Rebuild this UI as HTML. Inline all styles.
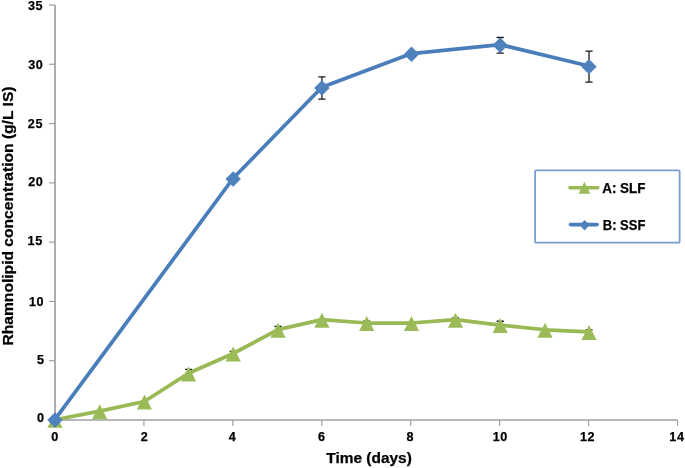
<!DOCTYPE html>
<html><head><meta charset="utf-8"><style>
html,body{margin:0;padding:0;background:#fff;width:685px;height:468px;overflow:hidden}
body{position:relative;font-family:"Liberation Sans",sans-serif}
</style></head><body>
<svg width="685" height="468" viewBox="0 0 685 468" style="position:absolute;left:0;top:0;will-change:transform">
<g stroke="#a0a0a0" fill="none">
<path d="M55.0 5 V420.0" stroke-width="1.7"/>
<path d="M54.2 420.0 H677.5" stroke-width="1.7"/>
<path d="M49 420.00 H55.0" stroke-width="1.2"/>
<path d="M49 360.71 H55.0" stroke-width="1.2"/>
<path d="M49 301.43 H55.0" stroke-width="1.2"/>
<path d="M49 242.14 H55.0" stroke-width="1.2"/>
<path d="M49 182.86 H55.0" stroke-width="1.2"/>
<path d="M49 123.57 H55.0" stroke-width="1.2"/>
<path d="M49 64.29 H55.0" stroke-width="1.2"/>
<path d="M49 5.00 H55.0" stroke-width="1.2"/>
<path d="M55.00 420.0 V426" stroke-width="1.2"/>
<path d="M143.93 420.0 V426" stroke-width="1.2"/>
<path d="M232.86 420.0 V426" stroke-width="1.2"/>
<path d="M321.79 420.0 V426" stroke-width="1.2"/>
<path d="M410.71 420.0 V426" stroke-width="1.2"/>
<path d="M499.64 420.0 V426" stroke-width="1.2"/>
<path d="M588.57 420.0 V426" stroke-width="1.2"/>
<path d="M677.50 420.0 V426" stroke-width="1.2"/>
</g>
<g font-family="Liberation Sans, sans-serif" font-weight="bold" stroke="#000" stroke-width="0.25" font-size="12.6" fill="#000">
<text x="43.90" y="421.90" text-anchor="end" letter-spacing="0">0</text>
<text x="43.90" y="363.90" text-anchor="end" letter-spacing="0">5</text>
<text x="44.10" y="305.90" text-anchor="end" letter-spacing="0.6">10</text>
<text x="42.80" y="244.90" text-anchor="end" letter-spacing="0.6">15</text>
<text x="43.40" y="185.90" text-anchor="end" letter-spacing="0.6">20</text>
<text x="43.00" y="127.90" text-anchor="end" letter-spacing="0.6">25</text>
<text x="43.40" y="68.90" text-anchor="end" letter-spacing="0.6">30</text>
<text x="43.10" y="9.90" text-anchor="end" letter-spacing="0.6">35</text>
<text x="54.70" y="441.3" text-anchor="middle" letter-spacing="0">0</text>
<text x="144.33" y="441.3" text-anchor="middle" letter-spacing="0">2</text>
<text x="232.36" y="441.3" text-anchor="middle" letter-spacing="0">4</text>
<text x="321.49" y="441.3" text-anchor="middle" letter-spacing="0">6</text>
<text x="410.11" y="441.3" text-anchor="middle" letter-spacing="0">8</text>
<text x="500.24" y="441.3" text-anchor="middle" letter-spacing="0.6">10</text>
<text x="587.57" y="441.3" text-anchor="middle" letter-spacing="0.6">12</text>
<text x="676.90" y="441.3" text-anchor="middle" letter-spacing="0.6">14</text>
</g>
<text font-family="Liberation Sans, sans-serif" font-weight="bold" stroke="#000" stroke-width="0.25" font-size="14" x="326.3" y="462.5" textLength="85.5" lengthAdjust="spacingAndGlyphs" fill="#000">Time (days)</text>
<text font-family="Liberation Sans, sans-serif" font-weight="bold" stroke="#000" stroke-width="0.25" font-size="14" transform="translate(12.8 345.5) rotate(-90)" x="0" y="0" textLength="259" lengthAdjust="spacingAndGlyphs" fill="#000">Rhamnolipid concentration (g/L IS)</text>
<g stroke="#1a1a1a" stroke-width="1.3" fill="none">
<path d="M188.60 369.37 V378.38 M185.00 369.37 H192.20 M185.00 378.38 H192.20"/>
<path d="M233.20 351.47 V356.68 M229.60 351.47 H236.80 M229.60 356.68 H236.80"/>
<path d="M278.00 326.33 V334.15 M274.40 326.33 H281.60 M274.40 334.15 H281.60"/>
<path d="M366.70 321.11 V326.09 M363.10 321.11 H370.30 M363.10 326.09 H370.30"/>
<path d="M455.50 317.91 V322.65 M451.90 317.91 H459.10 M451.90 322.65 H459.10"/>
<path d="M500.20 321.23 V330.00 M496.60 321.23 H503.80 M496.60 330.00 H503.80"/>
<path d="M589.00 329.89 V335.10 M585.40 329.89 H592.60 M585.40 335.10 H592.60"/>
<path d="M321.90 76.97 V99.03 M318.30 76.97 H325.50 M318.30 99.03 H325.50"/>
<path d="M500.20 37.49 V53.14 M496.60 37.49 H503.80 M496.60 53.14 H503.80"/>
<path d="M589.00 51.12 V82.19 M585.40 51.12 H592.60 M585.40 82.19 H592.60"/>
</g>
<polyline transform="translate(0 -0.6)" points="55.00,420.36 99.70,411.70 144.40,402.10 188.60,373.88 233.20,354.07 278.00,330.24 321.90,320.28 366.70,323.60 411.50,323.60 455.50,320.28 500.20,325.62 545.00,330.36 589.00,332.49" fill="none" stroke="#98b954" stroke-width="3.75" stroke-linejoin="round" stroke-linecap="round"/>
<path d="M55.00 412.86 L62.60 427.86 L47.40 427.86Z" fill="#9bbb59"/>
<path d="M99.70 404.20 L107.30 419.20 L92.10 419.20Z" fill="#9bbb59"/>
<path d="M144.40 394.60 L152.00 409.60 L136.80 409.60Z" fill="#9bbb59"/>
<path d="M188.60 366.38 L196.20 381.38 L181.00 381.38Z" fill="#9bbb59"/>
<path d="M233.20 346.57 L240.80 361.57 L225.60 361.57Z" fill="#9bbb59"/>
<path d="M278.00 322.74 L285.60 337.74 L270.40 337.74Z" fill="#9bbb59"/>
<path d="M321.90 312.78 L329.50 327.78 L314.30 327.78Z" fill="#9bbb59"/>
<path d="M366.70 316.10 L374.30 331.10 L359.10 331.10Z" fill="#9bbb59"/>
<path d="M411.50 316.10 L419.10 331.10 L403.90 331.10Z" fill="#9bbb59"/>
<path d="M455.50 312.78 L463.10 327.78 L447.90 327.78Z" fill="#9bbb59"/>
<path d="M500.20 318.12 L507.80 333.12 L492.60 333.12Z" fill="#9bbb59"/>
<path d="M545.00 322.86 L552.60 337.86 L537.40 337.86Z" fill="#9bbb59"/>
<path d="M589.00 324.99 L596.60 339.99 L581.40 339.99Z" fill="#9bbb59"/>
<polyline transform="translate(0 -0.7)" points="55.00,420.00 233.20,178.94 321.90,88.00 411.50,54.21 500.20,45.31 589.00,66.66" fill="none" stroke="#4a7ebb" stroke-width="3.75" stroke-linejoin="round" stroke-linecap="round"/>
<path d="M55.00 412.30 L62.70 420.00 L55.00 427.70 L47.30 420.00Z" fill="#4f81bd"/>
<path d="M233.20 171.24 L240.90 178.94 L233.20 186.64 L225.50 178.94Z" fill="#4f81bd"/>
<path d="M321.90 80.30 L329.60 88.00 L321.90 95.70 L314.20 88.00Z" fill="#4f81bd"/>
<path d="M411.50 46.51 L419.20 54.21 L411.50 61.91 L403.80 54.21Z" fill="#4f81bd"/>
<path d="M500.20 37.61 L507.90 45.31 L500.20 53.01 L492.50 45.31Z" fill="#4f81bd"/>
<path d="M589.00 58.96 L596.70 66.66 L589.00 74.36 L581.30 66.66Z" fill="#4f81bd"/>
<rect x="535.1" y="170.3" width="144.5" height="72.4" rx="1" fill="#fff" stroke="#789dd0" stroke-width="1.8"/>
<path d="M569.9 187.8 H597.9" stroke="#98b954" stroke-width="3.4" stroke-linecap="round"/>
<path d="M584.4 181.7 L590.2 193.8 L578.6 193.8Z" fill="#9bbb59"/>
<path d="M570.5 224.6 H597.1" stroke="#4a7ebb" stroke-width="3.6" stroke-linecap="round"/>
<path d="M584.6 219.9 L589.6 225.1 L584.6 230.4 L579.6 225.1Z" fill="#4f81bd"/>
<g font-family="Liberation Sans, sans-serif" font-weight="bold" stroke="#000" stroke-width="0.25" font-size="15" fill="#000">
<text x="602.2" y="192.6" textLength="43.3" lengthAdjust="spacingAndGlyphs">A: SLF</text>
<text x="602.8" y="229.6" textLength="42.6" lengthAdjust="spacingAndGlyphs">B: SSF</text>
</g>
</svg>
</body></html>
